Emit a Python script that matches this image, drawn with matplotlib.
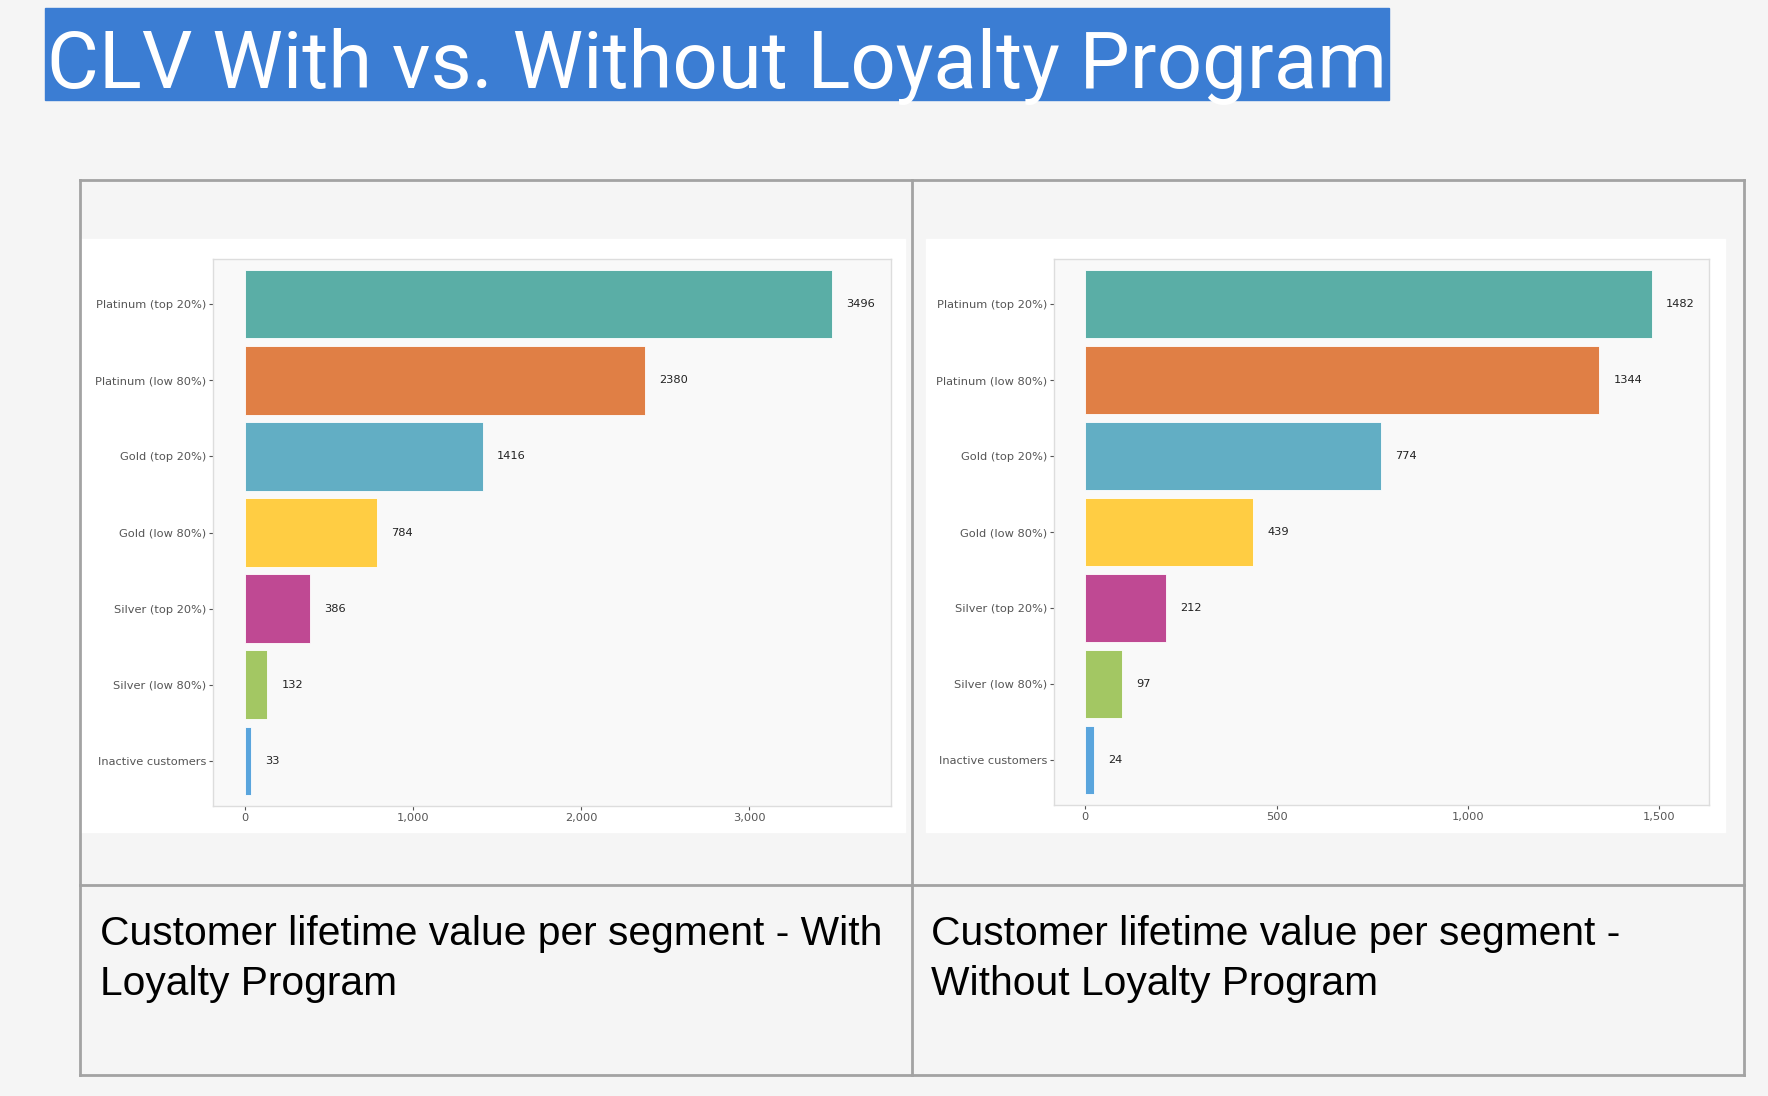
import matplotlib
matplotlib.use("Agg")
import matplotlib.pyplot as plt
from matplotlib.patches import Rectangle
from matplotlib.lines import Line2D
from matplotlib.ticker import FuncFormatter

W, H = 1768, 1096

segments = ["Platinum (top 20%)", "Platinum (low 80%)", "Gold (top 20%)", "Gold (low 80%)",
            "Silver (top 20%)", "Silver (low 80%)", "Inactive customers"]
clv_with = [3496, 2380, 1416, 784, 386, 132, 33]
clv_without = [1482, 1344, 774, 439, 212, 97, 24]
bar_colors = ["#5aaea6", "#e07f45", "#62aec4", "#ffcd43", "#bf4993", "#a3c763", "#5aa5dd"]
ticks_with = [0, 1000, 2000, 3000]
ticks_without = [0, 500, 1000, 1500]

title = "CLV With vs. Without Loyalty Program"
caption_with = ["Customer lifetime value per segment - With", "Loyalty Program"]
caption_without = ["Customer lifetime value per segment -", "Without Loyalty Program"]


def fx(px):
    return px / W


def fy(py):
    return 1 - py / H


def box(x0, y0, x1, y1):
    # pixel box (top-left origin) -> figure fraction rect
    return [fx(x0), fy(y1), fx(x1) - fx(x0), (y1 - y0) / H]


fig = plt.figure(figsize=(W / 100, H / 100), dpi=100, facecolor="#f5f5f5")

# title banner
fig.patches.append(Rectangle((fx(45), fy(100)), fx(1389) - fx(45), 92 / H,
                             transform=fig.transFigure, color="#3b7dd3", zorder=0))
t = fig.text(fx(47), fy(88), title, color="white", fontsize=56,
             family=["Roboto", "DejaVu Sans"], weight="normal", va="baseline", ha="left")
fig.canvas.draw()
bb = t.get_window_extent()
t.set_fontsize(56 * 1340 / bb.width)

# table grid
grid_kw = dict(color="#a3a3a3", linewidth=2, transform=fig.transFigure)
for x0, y0, x1, y1 in [(80, 180, 1744, 180), (80, 1075, 1744, 1075), (80, 180, 80, 1075),
                       (1744, 180, 1744, 1075), (912, 180, 912, 1075), (80, 885, 1744, 885)]:
    fig.lines.append(Line2D([fx(x0), fx(x1)], [fy(y0), fy(y1)], **grid_kw))

# white chart panels
for x0, x1 in [(80, 905), (926, 1725)]:
    fig.patches.append(Rectangle((fx(x0), fy(832)), fx(x1) - fx(x0), (832 - 239) / H,
                                 transform=fig.transFigure, color="white", zorder=0))


def draw_panel(rect, values, ticks):
    ax = fig.add_axes(rect, zorder=3)
    ax.set_facecolor("#f9f9f9")
    ypos = list(range(len(segments)))
    ax.barh(ypos, values, height=0.9, color=bar_colors, edgecolor="white", linewidth=0.6)
    top = max(values) * 1.1
    ax.set_xlim(-0.05 * top, top)
    ax.set_ylim(len(segments) - 1 + 0.593, -0.593)
    ax.set_yticks(ypos)
    ax.set_yticklabels(segments)
    ax.set_xticks(ticks)
    ax.xaxis.set_major_formatter(FuncFormatter(lambda v, p: f"{int(v):,}"))
    ax.tick_params(labelsize=8.2, labelcolor="#555555", color="#555555", length=3, width=0.8, pad=2)
    for s in ax.spines.values():
        s.set_color("#dddddd")
        s.set_linewidth(1)
    for y, v in zip(ypos, values):
        ax.annotate(str(v), (v, y), xytext=(10, 0), textcoords="offset points",
                    va="center", ha="left", fontsize=8.2, color="#222222")
    return ax


draw_panel(box(213, 259, 891, 806), clv_with, ticks_with)
draw_panel(box(1054, 259, 1709, 805), clv_without, ticks_without)

cap_kw = dict(fontsize=29.3, family=["Liberation Sans", "DejaVu Sans"], color="black", va="baseline")
for x, lines in [(100, caption_with), (931, caption_without)]:
    for i, line in enumerate(lines):
        fig.text(fx(x), fy(945 + 50 * i), line, **cap_kw)

fig.savefig("out.png", dpi=100, facecolor=fig.get_facecolor())
